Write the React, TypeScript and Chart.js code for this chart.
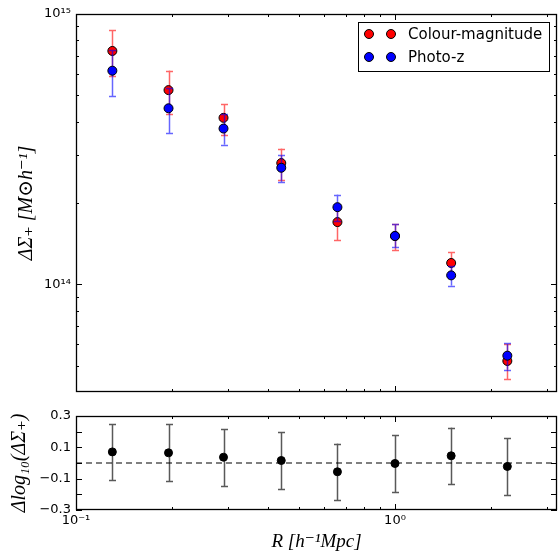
import React, { useEffect, useRef } from 'react';
import { Chart, registerables } from 'chart.js';
Chart.register(...registerables);

// ---------- data ----------
const radius = [0.13, 0.195, 0.29, 0.44, 0.66, 1.0, 1.5, 2.25];

const colourMag = [7.3e14, 5.23e14, 4.13e14, 2.81e14, 1.7e14, 1.51e14, 1.2e14, 5.21e13];
const colourMagLow = [5.9e14, 4.27e14, 3.58e14, 2.44e14, 1.46e14, 1.34e14, 1.08e14, 4.46e13];
const colourMagHigh = [8.7e14, 6.18e14, 4.66e14, 3.18e14, 1.94e14, 1.67e14, 1.32e14, 6.0e13];

const photoZ = [6.17e14, 4.48e14, 3.77e14, 2.7e14, 1.93e14, 1.51e14, 1.08e14, 5.45e13];
const photoZLow = [4.96e14, 3.63e14, 3.29e14, 2.39e14, 1.71e14, 1.37e14, 0.99e14, 4.84e13];
const photoZHigh = [7.38e14, 5.33e14, 4.25e14, 3.0e14, 2.15e14, 1.67e14, 1.17e14, 6.07e13];

const residual = [0.071, 0.065, 0.037, 0.016, -0.056, -0.003, 0.046, -0.022];
const residualLow = [-0.111, -0.116, -0.145, -0.166, -0.236, -0.186, -0.137, -0.205];
const residualHigh = [0.251, 0.247, 0.219, 0.198, 0.124, 0.179, 0.226, 0.16];

const seriesLabels = ['Colour-magnitude', 'Photo-z'];

const xMin = 0.1;
const xMax = 3.22;
const yTopMin = 4e13;
const yTopMax = 1e15;
const yBotMin = -0.3;
const yBotMax = 0.3;

const xMajorTicks = [0.1, 1];
const xMinorTicks = [0.2, 0.3, 0.4, 0.5, 0.6, 0.7, 0.8, 0.9, 2, 3];
const xTickLabels: Record<string, string> = { '0.1': '10\u207B\u00B9', '1': '10\u2070' };
const yTopMajorTicks = [1e14, 1e15];
const yTopMinorTicks = [5e13, 6e13, 7e13, 8e13, 9e13, 2e14, 3e14, 4e14, 5e14, 6e14, 7e14, 8e14, 9e14];
const yTopTickLabels: Record<string, string> = { '100000000000000': '10\u00B9\u2074', '1000000000000000': '10\u00B9\u2075' };
const yBotLabelTicks = [-0.3, -0.1, 0.1, 0.3];
const yBotMajorTicks = [-0.3, -0.2, -0.1, 0, 0.1, 0.2, 0.3];

// ---------- styles ----------
const SANS = "'DejaVu Sans', sans-serif";
const MATH = "'Liberation Serif', 'DejaVu Serif', serif";
const AXIS_W = 76;

type ErrSpec = { low: number[]; high: number[]; color: string };

function errorBarPlugin(specs: Record<number, ErrSpec>) {
  return {
    id: 'errorBars',
    beforeDatasetDraw(chart: any, args: any) {
      const spec = specs[args.index];
      if (!spec) return;
      const { ctx, scales } = chart;
      ctx.save();
      ctx.strokeStyle = spec.color;
      ctx.lineWidth = 1.5;
      for (let i = 0; i < radius.length; i++) {
        const x = Math.round(scales.x.getPixelForValue(radius[i])) + 0.5;
        const y1 = scales.y.getPixelForValue(spec.low[i]);
        const y2 = scales.y.getPixelForValue(spec.high[i]);
        ctx.beginPath();
        ctx.moveTo(x, y1);
        ctx.lineTo(x, y2);
        ctx.moveTo(x - 3.5, Math.round(y1) + 0.5);
        ctx.lineTo(x + 3.5, Math.round(y1) + 0.5);
        ctx.moveTo(x - 3.5, Math.round(y2) + 0.5);
        ctx.lineTo(x + 3.5, Math.round(y2) + 0.5);
        ctx.stroke();
      }
      ctx.restore();
    },
  };
}

function framePlugin(yMajor: number[], yMinor: number[]) {
  return {
    id: 'frameTicks',
    afterDatasetsDraw(chart: any) {
      const { ctx, chartArea: a, scales } = chart;
      ctx.save();
      ctx.strokeStyle = '#000';
      ctx.lineWidth = 1;
      const seg = (x1: number, y1: number, x2: number, y2: number) => {
        ctx.beginPath();
        ctx.moveTo(x1, y1);
        ctx.lineTo(x2, y2);
        ctx.stroke();
      };
      const xt = (v: number, len: number) => {
        const px = Math.round(scales.x.getPixelForValue(v)) + 0.5;
        seg(px, a.bottom, px, a.bottom - len);
        seg(px, a.top, px, a.top + len);
      };
      const yt = (v: number, len: number) => {
        const py = Math.round(scales.y.getPixelForValue(v)) + 0.5;
        seg(a.left, py, a.left + len, py);
        seg(a.right, py, a.right - len, py);
      };
      xMajorTicks.forEach((v) => xt(v, 6));
      xMinorTicks.forEach((v) => xt(v, 3));
      yMajor.forEach((v) => yt(v, 6));
      yMinor.forEach((v) => yt(v, 3));
      ctx.lineWidth = 1.3;
      ctx.strokeRect(a.left + 0.5, a.top + 0.5, a.right - a.left - 1, a.bottom - a.top - 1);
      ctx.restore();
    },
  };
}

const legendPlugin = {
  id: 'boxLegend',
  afterDraw(chart: any) {
    const { ctx, chartArea: a } = chart;
    const w = 191;
    const h = 49;
    const x0 = a.right - 8 - w;
    const y0 = a.top + 8;
    ctx.save();
    ctx.fillStyle = '#fff';
    ctx.fillRect(x0, y0, w, h);
    ctx.strokeStyle = '#000';
    ctx.lineWidth = 1;
    ctx.strokeRect(Math.round(x0) + 0.5, Math.round(y0) + 0.5, w, h);
    const ds = chart.data.datasets;
    [0, 1].forEach((r) => {
      const d = ds[r];
      const cy = y0 + 12 + r * 23;
      [x0 + 11, x0 + 33].forEach((cx) => {
        ctx.beginPath();
        ctx.arc(cx, cy, 4.5, 0, Math.PI * 2);
        ctx.fillStyle = d.backgroundColor;
        ctx.fill();
        ctx.lineWidth = 1;
        ctx.strokeStyle = '#000';
        ctx.stroke();
      });
      ctx.fillStyle = '#000';
      ctx.font = `15px ${SANS}`;
      ctx.textBaseline = 'middle';
      ctx.textAlign = 'left';
      ctx.fillText(d.label, x0 + 50, cy + 1);
    });
    ctx.restore();
  },
};

const zeroPad = (s: any) => {
  s.paddingTop = 0;
  s.paddingBottom = 0;
  s.paddingLeft = 0;
  s.paddingRight = 0;
};

export default function App() {
  const topRef = useRef<HTMLCanvasElement>(null);
  const botRef = useRef<HTMLCanvasElement>(null);

  useEffect(() => {
    const pts = (ys: number[]) => radius.map((x, i) => ({ x, y: ys[i] }));

    const top = new Chart(topRef.current!, {
      type: 'scatter',
      data: {
        datasets: [
          {
            label: seriesLabels[0],
            data: pts(colourMag),
            backgroundColor: '#ff0000',
            borderColor: '#000',
            borderWidth: 1,
            pointRadius: 4.5,
            order: 2,
          },
          {
            label: seriesLabels[1],
            data: pts(photoZ),
            backgroundColor: '#0000ff',
            borderColor: '#000',
            borderWidth: 1,
            pointRadius: 4.5,
            order: 1,
          },
        ],
      },
      options: {
        responsive: false,
        animation: false,
        layout: { autoPadding: false, padding: { top: 14, right: 1, bottom: 8, left: 0 } },
        plugins: { legend: { display: false }, tooltip: { enabled: false } },
        scales: {
          x: { type: 'logarithmic', min: xMin, max: xMax, display: false },
          y: {
            type: 'logarithmic',
            min: yTopMin,
            max: yTopMax,
            afterBuildTicks: (s: any) => {
              s.ticks = yTopMajorTicks.map((value) => ({ value }));
            },
            afterFit: (s: any) => {
              s.width = AXIS_W;
              zeroPad(s);
            },
            grid: { display: false, drawTicks: false },
            border: { display: false },
            ticks: {
              autoSkip: false,
              padding: 5,
              color: '#000',
              font: { family: SANS, size: 13 },
              callback: (v: any) => yTopTickLabels[String(v)] ?? '',
            },
            title: {
              display: true,
              text: '\u0394\u03A3\u208A [M\u2299h\u207B\u00B9]',
              color: '#000',
              font: { family: MATH, size: 20, style: 'italic' },
              padding: { top: 15, bottom: 0 },
            },
          },
        },
      },
      plugins: [
        errorBarPlugin({
          0: { low: colourMagLow, high: colourMagHigh, color: 'rgba(255,0,0,0.6)' },
          1: { low: photoZLow, high: photoZHigh, color: 'rgba(0,0,255,0.6)' },
        }),
        framePlugin(yTopMajorTicks, yTopMinorTicks),
        legendPlugin,
      ],
    } as any);

    const bot = new Chart(botRef.current!, {
      type: 'scatter',
      data: {
        datasets: [
          {
            label: 'residual',
            data: pts(residual),
            backgroundColor: '#000',
            borderColor: '#000',
            borderWidth: 1,
            pointRadius: 4,
            order: 1,
          },
          {
            type: 'line',
            label: 'zero',
            data: [
              { x: xMin, y: 0 },
              { x: xMax, y: 0 },
            ],
            borderColor: '#000',
            borderWidth: 1.2,
            borderDash: [6, 4],
            pointRadius: 0,
            order: 2,
          },
        ],
      },
      options: {
        responsive: false,
        animation: false,
        layout: { autoPadding: false, padding: { top: 16, right: 1, bottom: 0, left: 0 } },
        plugins: { legend: { display: false }, tooltip: { enabled: false } },
        scales: {
          x: {
            type: 'logarithmic',
            min: xMin,
            max: xMax,
            afterBuildTicks: (s: any) => {
              s.ticks = xMajorTicks.map((value) => ({ value }));
            },
            afterFit: (s: any) => {
              s.height = 43;
              zeroPad(s);
            },
            grid: { display: false, drawTicks: false },
            border: { display: false },
            ticks: {
              autoSkip: false,
              maxRotation: 0,
              padding: 3,
              color: '#000',
              font: { family: SANS, size: 13 },
              callback: (v: any) => xTickLabels[String(v)] ?? '',
            },
            title: {
              display: true,
              text: 'R [h\u207B\u00B9Mpc]',
              color: '#000',
              font: { family: MATH, size: 19, style: 'italic' },
              padding: { top: 0, bottom: 0 },
            },
          },
          y: {
            type: 'linear',
            min: yBotMin,
            max: yBotMax,
            afterBuildTicks: (s: any) => {
              s.ticks = yBotLabelTicks.map((value) => ({ value }));
            },
            afterFit: (s: any) => {
              s.width = AXIS_W;
              zeroPad(s);
            },
            grid: { display: false, drawTicks: false },
            border: { display: false },
            ticks: {
              autoSkip: false,
              padding: 5,
              color: '#000',
              font: { family: SANS, size: 13 },
              callback: (v: any) => (v < 0 ? '\u2212' + Math.abs(v).toFixed(1) : Number(v).toFixed(1)),
            },
            title: {
              display: true,
              text: '\u0394log\u2081\u2080(\u0394\u03A3\u208A)',
              color: '#000',
              font: { family: MATH, size: 20, style: 'italic' },
              padding: { top: 8, bottom: 0 },
            },
          },
        },
      },
      plugins: [
        errorBarPlugin({
          0: { low: residualLow, high: residualHigh, color: 'rgba(0,0,0,0.65)' },
        }),
        framePlugin(yBotMajorTicks, []),
      ],
    } as any);

    return () => {
      top.destroy();
      bot.destroy();
    };
  }, []);

  return (
    <div style={{ position: 'absolute', left: 0, top: 0, width: 558, height: 553, background: '#fff' }}>
      <canvas ref={topRef} width={558} height={400} style={{ position: 'absolute', left: 0, top: 0 }} />
      <canvas ref={botRef} width={558} height={153} style={{ position: 'absolute', left: 0, top: 400 }} />
    </div>
  );
}
